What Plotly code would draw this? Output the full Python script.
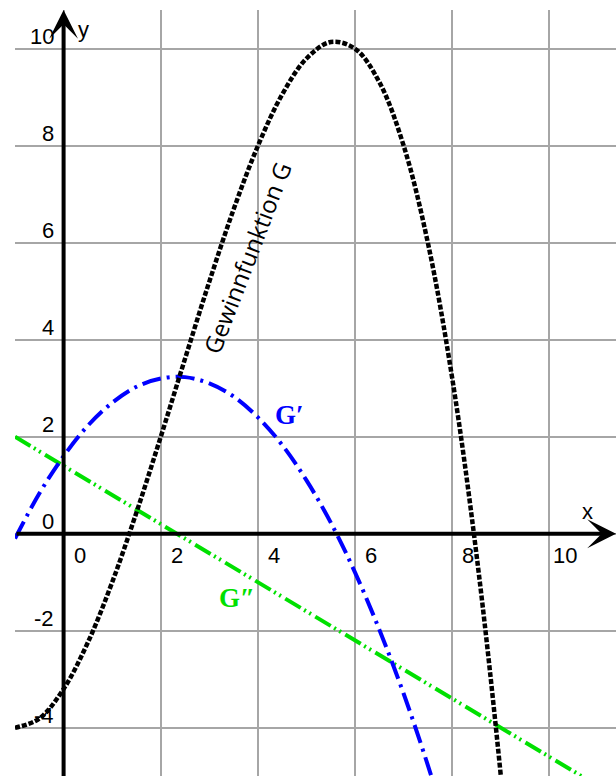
import plotly.graph_objects as go

# Gewinnfunktion G
g_x = [-1, -0.5, 0, 0.5, 1, 1.5, 2, 2.5, 3, 3.5, 4, 4.5, 5, 5.5, 6, 6.5, 7, 7.5, 8, 8.5, 9, 9.5]
g_y = [-4.0, -3.81, -3.2, -2.24, -1.0, 0.44, 2.0, 3.61, 5.2, 6.69, 8.0, 9.06, 9.8, 10.14,
       10.0, 9.31, 8.0, 5.99, 3.2, -0.44, -5.0, -10.56]

# G'
g1_x = [-1, -0.5, 0, 0.5, 1, 1.5, 2, 2.5, 3, 3.5, 4, 4.5, 5, 5.5, 6, 6.5, 7, 7.5, 8]
g1_y = [-0.1, 0.83, 1.6, 2.23, 2.7, 3.03, 3.2, 3.23, 3.1, 2.83, 2.4, 1.83, 1.1, 0.23,
        -0.8, -1.98, -3.3, -4.78, -6.4]

# G''
g2_x = [-1, 0, 2, 4, 6, 8, 10, 11.5]
g2_y = [2.0, 1.4, 0.2, -1.0, -2.2, -3.4, -4.6, -5.5]

x_ticks = [0, 2, 4, 6, 8, 10]
y_ticks = [-4, -2, 0, 2, 4, 6, 8, 10]

X_MIN, X_MAX = -1.0, 11.37
Y_MIN, Y_MAX = -4.995, 10.8

BLUE = "#0000ff"
GREEN = "#00e000"
TICK_FONT = dict(family="Liberation Sans, Arial, sans-serif", size=22, color="black")

fig = go.Figure()

fig.add_trace(go.Scatter(
    x=g2_x, y=g2_y, mode="lines", name="G''",
    line=dict(color=GREEN, width=4, dash="18px,4px,2px,4px,2px,5px"),
))
fig.add_trace(go.Scatter(
    x=g1_x, y=g1_y, mode="lines", name="G'",
    line=dict(color=BLUE, width=4, dash="19px,6px,3px,6px", shape="spline"),
))
fig.add_trace(go.Scatter(
    x=g_x, y=g_y, mode="lines", name="G",
    line=dict(color="black", width=4.5, dash="5px,2px", shape="spline"),
))

annotations = []

# axes with arrow heads
annotations.append(dict(
    x=0, y=Y_MAX, ax=0, ay=Y_MIN - 0.3, xref="x", yref="y", axref="x", ayref="y",
    text="", showarrow=True, arrowhead=3, arrowwidth=4, arrowsize=1.2, arrowcolor="black",
))
annotations.append(dict(
    x=X_MAX, y=0, ax=X_MIN, ay=0, xref="x", yref="y", axref="x", ayref="y",
    text="", showarrow=True, arrowhead=3, arrowwidth=4, arrowsize=1.2, arrowcolor="black",
))

# tick labels
for t in x_ticks:
    annotations.append(dict(
        x=t + 0.33, y=0, xref="x", yref="y", text=str(t), showarrow=False,
        xanchor="center", yanchor="top", yshift=-7, font=TICK_FONT,
    ))
for t in y_ticks:
    annotations.append(dict(
        x=0, y=t, xref="x", yref="y", text=str(t), showarrow=False,
        xanchor="right", yanchor="bottom", xshift=-8, yshift=-2, font=TICK_FONT,
    ))

# axis names
annotations.append(dict(x=0.40, y=10.39, xref="x", yref="y", text="y", showarrow=False,
                        font=TICK_FONT))
annotations.append(dict(x=10.79, y=0.45, xref="x", yref="y", text="x", showarrow=False,
                        font=TICK_FONT))

# curve labels
annotations.append(dict(
    x=3.78, y=5.69, xref="x", yref="y", text="Gewinnfunktion G", showarrow=False,
    textangle=-69, font=dict(family="Open Sans, sans-serif", size=24, color="black"),
))
annotations.append(dict(
    x=4.65, y=2.45, xref="x", yref="y", text="<b>G\u2032</b>", showarrow=False,
    font=dict(family="Liberation Serif, DejaVu Serif, serif", size=27, color=BLUE),
))
annotations.append(dict(
    x=3.56, y=-1.32, xref="x", yref="y", text="<b>G\u2033</b>", showarrow=False,
    font=dict(family="Liberation Serif, DejaVu Serif, serif", size=27, color=GREEN),
))

fig.update_layout(
    width=616,
    height=776,
    margin=dict(l=15, r=0, t=10, b=0),
    plot_bgcolor="white",
    paper_bgcolor="white",
    showlegend=False,
    annotations=annotations,
    xaxis=dict(range=[X_MIN, X_MAX], dtick=2, tick0=0, showgrid=True, gridcolor="#a6a6a6",
               gridwidth=2, zeroline=False, showticklabels=False, showline=False, ticks=""),
    yaxis=dict(range=[Y_MIN, Y_MAX], dtick=2, tick0=0, showgrid=True, gridcolor="#a6a6a6",
               gridwidth=2, zeroline=False, showticklabels=False, showline=False, ticks=""),
)

# drop the default 8px page margin so the 616x776 figure fills the window exactly
fig.write_html(
    "out.html",
    config={"displayModeBar": False},
    post_script="document.body.style.margin = '0';",
)
